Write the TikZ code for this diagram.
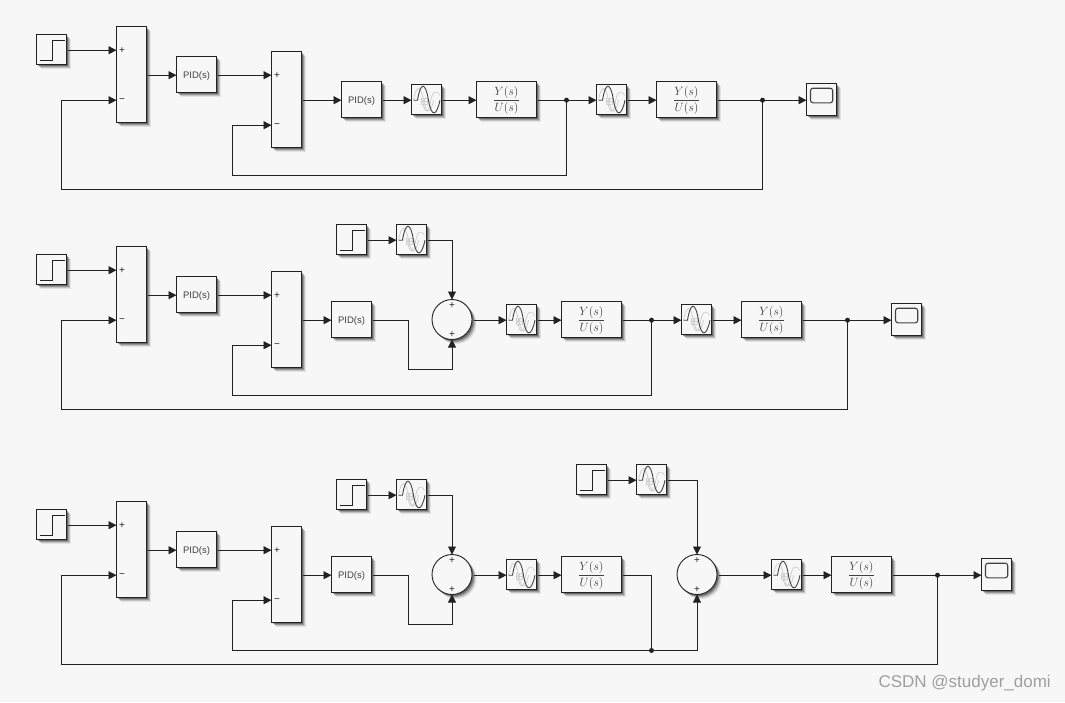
\documentclass[tikz,border=0pt]{standalone}
\usepackage{fontspec}
\setmainfont{Liberation Sans}
\usetikzlibrary{arrows.meta,shadows,calc}
\definecolor{bgc}{HTML}{F7F7F7}
\definecolor{ink}{HTML}{222222}
\definecolor{lab}{HTML}{404040}
\tikzset{
 x=1pt,y=-1pt,
 shad/.style={drop shadow={shadow xshift=4.5pt,shadow yshift=-4.5pt,fill=black,opacity=.08},
              drop shadow={shadow xshift=3.5pt,shadow yshift=-3.5pt,fill=black,opacity=.14},
              drop shadow={shadow xshift=2.5pt,shadow yshift=-2.5pt,fill=black,opacity=.22},
              drop shadow={shadow xshift=1.5pt,shadow yshift=-1.5pt,fill=black,opacity=.3}},
 blk/.style={draw=ink,fill=bgc,line width=.9pt,inner sep=0pt,outer sep=0pt,shad},
 sq/.style={blk,minimum width=30pt,minimum height=30pt},
 scp/.style={blk,minimum width=30pt,minimum height=32pt},
 sumbox/.style={blk,minimum width=30pt,minimum height=96pt},
 pidb/.style={blk,minimum width=40pt,minimum height=36pt},
 tfb/.style={blk,minimum width=60pt,minimum height=36pt},
 pidt/.style={text=lab,inner sep=0pt,font=\fontsize{9.5}{9.5}\selectfont},
 tft/.style={text=lab,inner sep=0pt},
 circ/.style={blk,circle,minimum size=40pt},
 sgn/.style={text=ink,inner sep=0pt,font=\fontsize{10}{10}\selectfont},
 wire/.style={draw=ink,line width=.9pt},
 tip/.style={-{Triangle[length=8pt,width=8pt]}},
 arr/.style={wire,tip,shorten <=1.5pt},
 plain/.style={wire,shorten <=1.5pt},
 fb/.style={wire,tip},
 dotn/.style={circle,fill=ink,inner sep=0pt,minimum size=5pt},
}
% every block gets an input point (name i) and output point (name o) on its signal line
\newcommand{\Ports}[2]{\coordinate (#1i) at ($(#1.center)+(-#2,.7)$);
 \coordinate (#1o) at ($(#1.center)+(#2,.7)$);}
\newcommand{\StepB}[3]{\node[sq] (#1) at (#2,#3) {};\Ports{#1}{15}
 \draw[ink,line width=.8pt] ($(#1.center)+(-11.3,10.5)$) -- ++(12.3,0) -- ++(0,-19.5) -- ++(12.6,0);}
\newcommand{\SatB}[3]{\node[sq] (#1) at (#2,#3) {};\Ports{#1}{15}
 \begin{scope}[shift={(#1.center)}]
 \draw[gray!40,line width=.7pt] (-13,.7) .. controls (-10,-15) and (-6,-15) .. (-3,1) .. controls (0,15) and (4,15) .. (7,.7);
 \draw[gray!40,line width=.7pt] (-4,1) .. controls (-2,15) and (2,15) .. (4,2) .. controls (6,-9) and (10,-10) .. (13,-4);
 \draw[gray!35,line width=.4pt] (-5,-1) rectangle (1,5) (-5,2) -- (1,2) (-2,-1) -- (-2,5);
 \draw[ink!85,line width=.9pt] (-13,.7) -- (-9,.7) .. controls (-6,-18) and (-1,-18) .. (2,1) .. controls (5,18) and (10,17) .. (13.5,.7);
 \end{scope}}
\newcommand{\ScopeB}[3]{\node[scp] (#1) at (#2,#3) {};\Ports{#1}{15}
 \draw[ink!85,line width=1.1pt,rounded corners=2.5pt] ($(#1.center)+(-11,-11.3)$) rectangle ($(#1.center)+(11.2,3.3)$);}
\newcommand{\SumB}[3]{\node[sumbox] (#1) at (#2,#3) {};\Ports{#1}{15}
 \coordinate (#1p) at ($(#1.center)+(-15,-24.3)$);
 \coordinate (#1m) at ($(#1.center)+(-15,25.7)$);
 \node[sgn] (#1ps) at ($(#1.center)+(-9.5,-24.3)$) {+};
 \node[sgn] (#1ms) at ($(#1.center)+(-9.5,25.7)$) {−};}
\newcommand{\PidB}[3]{\node[pidb] (#1) at (#2,#3) {};\Ports{#1}{20}
 \node[pidt] (#1t) at ($(#1.center)+(0,1.2)$) {PID(s)};}
\newcommand{\TfB}[3]{\node[tfb] (#1) at (#2,#3) {};\Ports{#1}{30}
 \node[tft] (#1t) at ($(#1.center)+(0,1.2)$) {\fontsize{12}{14}\selectfont$\displaystyle\frac{Y(s)}{U(s)}$};}
\newcommand{\CircB}[3]{\node[circ] (#1) at (#2,#3) {};\Ports{#1}{20}
 \node[sgn] (#1t) at ($(#1.center)+(0,-14)$) {+};
 \node[sgn] (#1b) at ($(#1.center)+(0,15.5)$) {+};}
\begin{document}
\begin{tikzpicture}
\useasboundingbox (0,0) rectangle (1065,702);
\fill[bgc] (0,0) rectangle (1065,702);

% ---------- row 1
\StepB{a1}{51.5}{49.5}
\SumB{a2}{131.5}{74.5}
\PidB{a3}{196.5}{74.5}
\SumB{a4}{286.5}{99.5}
\PidB{a5}{361.5}{99.5}
\SatB{a6}{426.5}{99.5}
\TfB{a7}{506.5}{99.5}
\SatB{a8}{611.5}{99.5}
\TfB{a9}{686.5}{99.5}
\ScopeB{a10}{821.5}{99.5}
\node[dotn] (ad1) at (566.5,100.2) {};
\node[dotn] (ad2) at (762.5,100.2) {};
\draw[arr] (a1o) -- (a2p);
\draw[arr] (a2o) -- (a3i);
\draw[arr] (a3o) -- (a4p);
\draw[arr] (a4o) -- (a5i);
\draw[arr] (a5o) -- (a6i);
\draw[arr] (a6o) -- (a7i);
\draw[plain] (a7o) -- (ad1.center);
\draw[fb] (ad1.center) -- (a8i);
\draw[arr] (a8o) -- (a9i);
\draw[plain] (a9o) -- (ad2.center);
\draw[fb] (ad2.center) -- (a10i);
\draw[fb] (ad1.center) |- (232.5,175.5) |- (a4m);
\draw[fb] (ad2.center) |- (61.5,189.5) |- (a2m);

% ---------- row 2
\StepB{b1}{51.5}{269.5}
\SumB{b2}{131.5}{294.5}
\PidB{b3}{196.5}{294.5}
\SumB{b4}{286.5}{319.5}
\PidB{b5}{351.5}{319.5}
\StepB{b11}{351.5}{239.5}
\SatB{b12}{411.5}{239.5}
\CircB{b13}{452}{319.5}
\SatB{b6}{521.5}{319.5}
\TfB{b7}{591.5}{319.5}
\SatB{b8}{696.5}{319.5}
\TfB{b9}{771.5}{319.5}
\ScopeB{b10}{906.5}{319.5}
\node[dotn] (bd1) at (651.5,320.2) {};
\node[dotn] (bd2) at (847.5,320.2) {};
\draw[arr] (b1o) -- (b2p);
\draw[arr] (b2o) -- (b3i);
\draw[arr] (b3o) -- (b4p);
\draw[arr] (b4o) -- (b5i);
\draw[arr] (b11o) -- (b12i);
\draw[arr] (b12o) -| (b13.north);
\draw[arr] (b5o) -| (408.5,369.5) -| (b13.south);
\draw[arr] (b13o) -- (b6i);
\draw[arr] (b6o) -- (b7i);
\draw[plain] (b7o) -- (bd1.center);
\draw[fb] (bd1.center) -- (b8i);
\draw[arr] (b8o) -- (b9i);
\draw[plain] (b9o) -- (bd2.center);
\draw[fb] (bd2.center) -- (b10i);
\draw[fb] (bd1.center) |- (232.5,395.5) |- (b4m);
\draw[fb] (bd2.center) |- (61.5,409.5) |- (b2m);

% ---------- row 3
\StepB{c1}{51.5}{524.5}
\SumB{c2}{131.5}{549.5}
\PidB{c3}{196.5}{549.5}
\SumB{c4}{286.5}{574.5}
\PidB{c5}{351.5}{574.5}
\StepB{c11}{351.5}{494.5}
\SatB{c12}{411.5}{494.5}
\CircB{c13}{452}{574.5}
\SatB{c6}{521.5}{574.5}
\TfB{c7}{591.5}{574.5}
\StepB{c14}{591.5}{479.5}
\SatB{c15}{651.5}{479.5}
\CircB{c16}{697}{574.5}
\SatB{c8}{786.5}{574.5}
\TfB{c9}{861.5}{574.5}
\ScopeB{c10}{996.5}{574.5}
\node[dotn] (cd1) at (651.5,650.5) {};
\node[dotn] (cd2) at (937.5,575.2) {};
\draw[arr] (c1o) -- (c2p);
\draw[arr] (c2o) -- (c3i);
\draw[arr] (c3o) -- (c4p);
\draw[arr] (c4o) -- (c5i);
\draw[arr] (c11o) -- (c12i);
\draw[arr] (c12o) -| (c13.north);
\draw[arr] (c5o) -| (408.5,624.5) -| (c13.south);
\draw[arr] (c13o) -- (c6i);
\draw[arr] (c6o) -- (c7i);
\draw[plain] (c7o) -| (cd1.center);
\draw[arr] (c14o) -- (c15i);
\draw[arr] (c15o) -| (c16.north);
\draw[fb] (cd1.center) -| (c16.south);
\draw[fb] (cd1.center) -- (232.5,650.5) |- (c4m);
\draw[arr] (c16o) -- (c8i);
\draw[arr] (c8o) -- (c9i);
\draw[plain] (c9o) -- (cd2.center);
\draw[fb] (cd2.center) -- (c10i);
\draw[fb] (cd2.center) |- (61.5,664.5) |- (c2m);

\node[text=gray!75,anchor=east,inner sep=0pt,font=\fontsize{17}{18}\selectfont] (wm) at (1051,683) {CSDN @studyer\_domi};
\end{tikzpicture}
\end{document}
